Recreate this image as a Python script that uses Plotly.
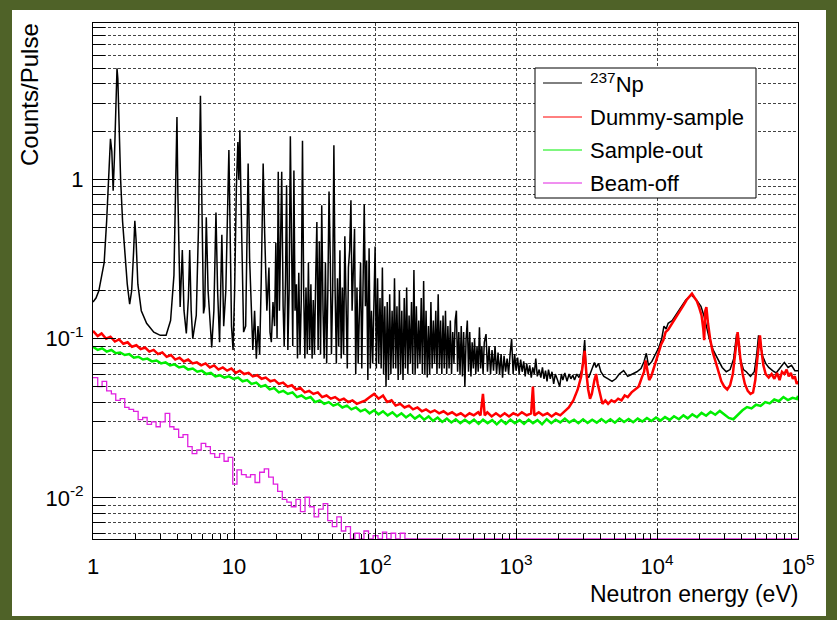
import plotly.graph_objects as go

# ---------------- data ----------------
np237_E = [
    1.00, 1.05, 1.10, 1.15, 1.20, 1.25, 1.29, 1.33, 1.36, 1.39,
    1.42, 1.45, 1.48, 1.50, 1.53, 1.57, 1.62, 1.68, 1.75, 1.82,
    1.88, 1.94, 1.98, 2.02, 2.08, 2.20, 2.40, 2.70, 3.00, 3.30,
    3.55, 3.75, 3.88, 3.94, 4.00, 4.08, 4.15, 4.30, 4.42, 4.59,
    4.75, 4.85, 4.97, 5.10, 5.40, 5.60, 5.78, 5.92, 6.08, 6.20,
    6.36, 6.55, 6.75, 6.95, 7.20, 7.45, 7.65, 7.90, 8.20, 8.45,
    8.75, 9.05, 9.20, 9.35, 9.60, 9.85, 10.1, 10.4, 10.65, 10.82,
    11.0, 11.2, 11.5, 11.7, 12.1, 12.4, 12.6, 12.9, 13.3, 13.6,
    14.0, 14.4, 14.8, 15.2, 15.6, 16.1, 16.5, 16.8, 17.1, 17.7,
    18.0, 18.4, 18.9,
    19.4, 19.8, 20.2, 20.6, 21.0, 21.4, 21.8, 22.3, 22.7, 23.2,
    23.6, 24.1, 24.6, 25.1, 25.6, 26.1, 26.6, 27.1, 27.7, 28.2,
    28.8, 29.4, 30.0, 30.6, 31.2, 31.8, 32.4, 33.1, 33.7, 34.4,
    35.1, 35.8, 36.5, 37.2, 38.0, 38.7, 39.5, 40.3, 41.1, 41.9,
    42.8, 43.6, 44.5, 45.4, 46.3, 47.2, 48.2, 49.1, 50.1, 51.1,
    52.1, 53.2, 54.2, 55.3, 56.4, 57.6, 58.7, 59.9, 61.1, 62.3,
    63.6, 64.8, 66.1, 67.5, 68.8, 70.2, 71.6, 73.0, 74.5, 76.0,
    77.5, 79.0, 80.6, 82.2, 83.9, 85.5, 87.2, 89.0, 90.8, 92.6,
    94.4, 96.3, 98.2, 100.2, 102.2, 104.3, 106.3, 108.5, 110.6, 112.8,
    115.1, 117.4, 119.7, 122.1, 124.6, 127.1, 129.6, 132.2, 134.8, 137.5,
    140.3, 143.1, 146.0, 148.9, 151.9, 154.9, 158.0, 161.2, 164.4, 167.7,
    171.0, 174.5, 178.0, 181.5, 185.1, 188.8, 192.6, 196.5, 200.4, 204.4,
    208.5, 212.7, 216.9, 221.3, 225.7, 230.2, 234.8, 239.5, 244.3, 249.2,
    254.2, 259.3, 264.5, 269.8, 275.1, 280.6, 286.3, 292.0, 297.8, 303.8,
    309.9, 316.1, 322.4, 328.8, 335.4, 342.1, 349.0, 356.0, 363.1, 370.4,
    377.8, 385.3, 393.0, 400.9, 408.9, 417.1, 425.4, 433.9, 442.6, 451.5,
    460.5, 469.7, 479.1, 488.7, 498.5, 508.4, 518.6, 529.0, 539.6, 550.4,
    561.4, 572.6, 584.1, 595.8,
    613, 628, 644, 660, 676, 693, 710, 728, 746,
    765, 784, 803, 823, 844, 865, 886, 908, 931, 954,
    978, 1002, 1027, 1053, 1079, 1106, 1134, 1162, 1191, 1221,
    1251, 1283, 1315, 1348, 1381, 1416, 1460, 1500, 1540, 1580,
    1620, 1660, 1700, 1750, 1800, 1850, 1900, 1970, 2040, 2100,
    2150, 2220, 2300, 2380, 2450, 2530, 2600, 2700, 2800, 2880,
    2950, 3070, 3150, 3280, 3450, 3600, 3700, 3850, 4000, 4200,
    4500, 4800, 5100, 5400, 5800, 6200, 6700, 7200, 7700, 8100,
    8400, 8700, 9200, 9800, 10300, 10800, 11200, 11600, 12000, 12800,
    13800, 14800, 16000, 17500, 19000, 20500, 21500, 22500, 23500, 25000,
    27000, 29000, 31000, 33000, 35000, 36000, 36700, 37500, 39000, 41000,
    43000, 46000, 49000, 51000, 52500, 54000, 56000, 59000, 62000, 66000,
    70000, 75000, 80000, 85000, 90000, 95000, 100000]
np237_y = [
    0.170, 0.180, 0.200, 0.240, 0.300, 0.550, 1.100, 1.800, 1.500, 0.850,
    1.400, 3.000, 5.000, 4.300, 2.300, 1.000, 0.550, 0.330, 0.220, 0.165,
    0.200, 0.350, 0.550, 0.420, 0.220, 0.150, 0.125, 0.110, 0.105, 0.105,
    0.130, 0.250, 1.200, 2.470, 0.800, 0.250, 0.158, 0.360, 0.150, 0.108,
    0.180, 0.360, 0.150, 0.100, 0.140, 0.500, 3.360, 0.700, 0.144, 0.160,
    0.580, 0.200, 0.120, 0.088, 0.150, 0.620, 0.200, 0.095, 0.450, 0.120,
    0.200, 0.800, 1.530, 0.600, 0.120, 0.085, 0.200, 0.900, 1.720, 1.000,
    2.040, 0.800, 0.250, 0.110, 0.120, 0.450, 1.260, 0.320, 0.120, 0.085,
    0.150, 0.075, 0.120, 0.080, 0.230, 1.260, 0.460, 0.300, 0.150, 0.280,
    0.110, 0.095, 0.170,
    0.120, 0.400, 0.100, 1.120, 0.150, 0.420, 1.120, 0.160, 0.090, 0.240,
    0.920, 0.085, 0.200, 1.870, 0.350, 0.090, 1.140, 0.150, 0.220, 0.075,
    0.260, 0.080, 0.175, 1.750, 0.200, 0.075, 0.210, 0.080, 0.300, 0.085,
    0.220, 0.075, 0.175, 0.080, 0.250, 0.540, 0.085, 0.410, 0.080, 0.690,
    0.150, 0.075, 0.300, 0.070, 0.200, 0.840, 0.310, 0.080, 0.200, 1.640,
    0.210, 0.070, 0.240, 0.090, 0.360, 0.075, 0.210, 0.080, 0.440, 0.160,
    0.065, 0.280, 0.360, 0.740, 0.150, 0.270, 0.490, 0.060, 0.210, 0.070,
    0.190, 0.300, 0.065, 0.240, 0.700, 0.160, 0.310, 0.055, 0.370, 0.065,
    0.150, 0.070, 0.220, 0.380, 0.065, 0.240, 0.070, 0.180, 0.065, 0.280,
    0.060, 0.160, 0.050, 0.170, 0.055, 0.190, 0.060, 0.150, 0.065, 0.240,
    0.065, 0.160, 0.055, 0.200, 0.060, 0.150, 0.055, 0.180, 0.065, 0.210,
    0.060, 0.140, 0.070, 0.170, 0.060, 0.270, 0.060, 0.160, 0.065, 0.130,
    0.070, 0.180, 0.060, 0.230, 0.060, 0.150, 0.057, 0.120, 0.060, 0.170,
    0.065, 0.130, 0.070, 0.150, 0.060, 0.190, 0.065, 0.130, 0.060, 0.140,
    0.065, 0.150, 0.060, 0.120, 0.065, 0.130, 0.060, 0.110, 0.070, 0.130,
    0.150, 0.062, 0.110, 0.060, 0.120, 0.058, 0.110, 0.050, 0.100, 0.130,
    0.062, 0.110, 0.058, 0.095, 0.065, 0.100, 0.060, 0.090, 0.062, 0.118,
    0.065, 0.090, 0.060, 0.095,
    0.107, 0.062, 0.090, 0.060, 0.085, 0.063, 0.090, 0.060, 0.082,
    0.060, 0.080, 0.057, 0.078, 0.062, 0.075, 0.060, 0.080, 0.100, 0.060,
    0.080, 0.063, 0.076, 0.060, 0.074, 0.062, 0.072, 0.058, 0.070, 0.060,
    0.068, 0.057, 0.066, 0.060, 0.075, 0.058, 0.064, 0.057, 0.066, 0.056,
    0.063, 0.054, 0.064, 0.056, 0.062, 0.052, 0.060, 0.055, 0.050, 0.060,
    0.055, 0.061, 0.054, 0.060, 0.056, 0.059, 0.055, 0.060, 0.057, 0.061,
    0.065, 0.098, 0.060, 0.057, 0.065, 0.071, 0.066, 0.070, 0.062, 0.058,
    0.056, 0.054, 0.056, 0.060, 0.063, 0.058, 0.060, 0.062, 0.065, 0.072,
    0.081, 0.068, 0.072, 0.080, 0.088, 0.100, 0.120, 0.115, 0.125, 0.130,
    0.145, 0.158, 0.175, 0.188, 0.176, 0.160, 0.140, 0.120, 0.100, 0.085,
    0.075, 0.066, 0.062, 0.064, 0.075, 0.095, 0.107, 0.095, 0.075, 0.064,
    0.062, 0.058, 0.062, 0.080, 0.105, 0.095, 0.078, 0.070, 0.066, 0.063,
    0.061, 0.066, 0.071, 0.066, 0.068, 0.063, 0.063]

dummy_E = [
    1.00, 1.08, 1.15, 1.24, 1.33, 1.43, 1.53, 1.64, 1.76, 1.89,
    2.03, 2.18, 2.34, 2.51, 2.69, 2.89, 3.10, 3.33, 3.57, 3.83,
    4.11, 4.41, 4.73, 5.08, 5.45, 5.85, 6.28, 6.74, 7.23, 7.76,
    8.33, 8.94, 9.59, 10.3, 11.0, 11.8, 12.7, 13.6, 14.6, 15.7,
    16.8, 18.1, 19.4, 20.8, 22.3, 24.0, 25.7, 27.6, 29.6, 31.8,
    34.1, 36.6, 39.3, 42.2, 45.3, 48.6, 52.1, 56.0, 60.1, 64.5,
    69.2, 74.3, 79.7, 85.6, 91.9, 98.6, 106, 114, 122, 131,
    140, 151, 162, 174, 186, 200, 215, 230, 247, 265,
    285, 306, 328, 352, 378, 406, 436, 468, 502, 539,
    560, 583, 600, 626, 672, 721, 774, 831, 892, 957,
    1030, 1100, 1190, 1280, 1318, 1350, 1450, 1550, 1670, 1790,
    1920, 2060, 2210, 2370, 2550, 2740, 2900, 3000, 3070, 3150,
    3250, 3350, 3450, 3600, 3700, 3800, 3950, 4100, 4300, 4500,
    4750, 5000, 5300, 5600, 5900, 6200, 6600, 7000, 7400, 7800,
    8100, 8300, 8550, 8800, 9100, 9500, 9900, 10300, 10700, 11100,
    11500, 12000, 12600, 13200, 13900, 14600, 15400, 16200, 17000, 17700,
    18400, 19200, 20000, 20700, 21300, 21600, 22000, 22400, 23000, 23800,
    24800, 26000, 27300, 28600, 30000, 31500, 33000, 34500, 35800, 36700,
    37300, 38000, 39000, 40500, 42000, 44000, 46000, 48000, 49800, 51500,
    52800, 53700, 55000, 56800, 59000, 62000, 65000, 68000, 71000, 74000,
    77000, 80000, 83000, 86000, 89000, 92000, 95000, 98000, 100000]
dummy_y = [
    0.112, 0.104, 0.108, 0.100, 0.103, 0.096, 0.099, 0.093, 0.095, 0.089,
    0.091, 0.086, 0.088, 0.083, 0.085, 0.080, 0.082, 0.077, 0.079, 0.074,
    0.076, 0.072, 0.074, 0.070, 0.071, 0.068, 0.070, 0.066, 0.068, 0.064,
    0.066, 0.063, 0.065, 0.061, 0.063, 0.060, 0.061, 0.058, 0.059, 0.056,
    0.057, 0.054, 0.055, 0.052, 0.053, 0.050, 0.051, 0.048, 0.049, 0.046,
    0.047, 0.045, 0.046, 0.043, 0.044, 0.042, 0.043, 0.041, 0.042, 0.040,
    0.041, 0.039, 0.040, 0.041, 0.043, 0.045, 0.042, 0.044, 0.040, 0.041,
    0.038, 0.039, 0.037, 0.038, 0.036, 0.037, 0.035, 0.036, 0.0345, 0.0355,
    0.034, 0.035, 0.0335, 0.0345, 0.033, 0.034, 0.0325, 0.034, 0.033, 0.0345,
    0.033, 0.045, 0.033, 0.0345, 0.0325, 0.034, 0.0325, 0.034, 0.0325, 0.034,
    0.033, 0.0345, 0.033, 0.034, 0.050, 0.033, 0.0345, 0.033, 0.034, 0.0325,
    0.034, 0.033, 0.035, 0.037, 0.041, 0.048, 0.058, 0.070, 0.084, 0.062,
    0.048, 0.042, 0.045, 0.055, 0.060, 0.052, 0.044, 0.039, 0.041, 0.039,
    0.041, 0.040, 0.042, 0.041, 0.044, 0.043, 0.046, 0.048, 0.050, 0.057,
    0.062, 0.073, 0.062, 0.055, 0.058, 0.066, 0.074, 0.084, 0.092, 0.098,
    0.110, 0.114, 0.122, 0.130, 0.138, 0.150, 0.162, 0.175, 0.185, 0.192,
    0.182, 0.172, 0.155, 0.140, 0.115, 0.098, 0.150, 0.158, 0.125, 0.100,
    0.083, 0.072, 0.062, 0.054, 0.050, 0.048, 0.051, 0.060, 0.080, 0.105,
    0.110, 0.095, 0.075, 0.060, 0.052, 0.047, 0.045, 0.046, 0.055, 0.075,
    0.098, 0.105, 0.085, 0.068, 0.060, 0.057, 0.060, 0.056, 0.061, 0.055,
    0.062, 0.060, 0.064, 0.058, 0.061, 0.056, 0.058, 0.052, 0.054]

out_E = [
    1.00, 1.08, 1.16, 1.25, 1.35, 1.45, 1.56, 1.68, 1.81, 1.95,
    2.10, 2.26, 2.43, 2.62, 2.82, 3.04, 3.27, 3.52, 3.79, 4.08,
    4.40, 4.73, 5.10, 5.49, 5.91, 6.36, 6.85, 7.38, 7.94, 8.55,
    9.21, 9.92, 10.7, 11.5, 12.4, 13.3, 14.4, 15.5, 16.7, 17.9,
    19.3, 20.8, 22.4, 24.1, 26.0, 28.0, 30.1, 32.4, 34.9, 37.6,
    40.5, 43.6, 47.0, 50.6, 54.5, 58.7, 63.2, 68.0, 73.3, 78.9,
    85.0, 91.5, 98.6, 106, 114, 123, 133, 143, 154, 166,
    178, 192, 207, 223, 240, 258, 278, 300, 323, 348,
    374, 403, 434, 468, 504, 543, 584, 629, 678, 730,
    786, 847, 912, 982, 1060, 1140, 1230, 1320, 1420, 1530,
    1650, 1780, 1910, 2060, 2220, 2390, 2580, 2770, 2990, 3220,
    3470, 3740, 4030, 4340, 4670, 5030, 5420, 5840, 6290, 6780,
    7300, 7870, 8480, 9130, 9840, 10600, 11400, 12300, 13200, 14300,
    15400, 16500, 17800, 19200, 20700, 22300, 24000, 25900, 27900, 30000,
    32300, 34800, 37500, 40400, 43500, 46800, 50400, 54300, 58500, 63000,
    67900, 73100, 78800, 84800, 91400, 98400, 100000]
out_y = [
    0.089, 0.085, 0.087, 0.083, 0.085, 0.081, 0.082, 0.079, 0.080, 0.076,
    0.077, 0.074, 0.075, 0.072, 0.073, 0.070, 0.071, 0.068, 0.069, 0.066,
    0.067, 0.064, 0.065, 0.062, 0.063, 0.060, 0.061, 0.058, 0.059, 0.057,
    0.058, 0.056, 0.057, 0.054, 0.055, 0.052, 0.053, 0.050, 0.051, 0.048,
    0.049, 0.046, 0.047, 0.045, 0.046, 0.043, 0.044, 0.042, 0.043, 0.040,
    0.041, 0.039, 0.040, 0.038, 0.039, 0.037, 0.038, 0.036, 0.037, 0.035,
    0.036, 0.034, 0.0355, 0.0335, 0.035, 0.033, 0.0345, 0.0325, 0.034, 0.032,
    0.0335, 0.0315, 0.033, 0.031, 0.0325, 0.0305, 0.032, 0.030, 0.0315, 0.0298,
    0.0312, 0.0295, 0.031, 0.0295, 0.031, 0.0292, 0.031, 0.0295, 0.0308, 0.029,
    0.0308, 0.0292, 0.031, 0.0295, 0.0308, 0.0292, 0.031, 0.0295, 0.0308, 0.029,
    0.0312, 0.0295, 0.031, 0.0298, 0.0315, 0.0298, 0.031, 0.0295, 0.0312, 0.0296,
    0.031, 0.0297, 0.0313, 0.0298, 0.0312, 0.0297, 0.0315, 0.030, 0.0313, 0.0299,
    0.0315, 0.0302, 0.0318, 0.0304, 0.032, 0.0306, 0.0322, 0.0309, 0.0326, 0.0312,
    0.033, 0.0316, 0.0335, 0.0321, 0.0342, 0.0328, 0.0348, 0.0333, 0.0352, 0.0336,
    0.0318, 0.0312, 0.0335, 0.0355, 0.0372, 0.0365, 0.0385, 0.0378, 0.040, 0.0392,
    0.0415, 0.0405, 0.043, 0.0412, 0.0425, 0.0418, 0.0438]

beam_E = [
    1.00, 1.08, 1.16, 1.25, 1.35, 1.45, 1.56, 1.68, 1.80, 1.94,
    2.09, 2.25, 2.42, 2.60, 2.80, 3.00, 3.25, 3.50, 3.75, 4.05,
    4.35, 4.70, 5.05, 5.45, 5.85, 6.30, 6.80, 7.30, 7.90, 8.50,
    9.10, 9.80, 10.5, 11.3, 12.2, 13.1, 14.1, 15.2, 16.4, 17.6,
    19.0, 20.4, 22.0, 23.7, 25.5, 27.5, 29.6, 31.9, 34.3, 37.0,
    39.8, 42.9, 46.2, 49.8, 53.6, 57.7, 62.0, 67.0, 72.0, 77.5,
    83.5, 90.0, 97.0, 105, 113, 121, 130, 140, 151, 163,
    175, 100000]
beam_y = [
    0.057, 0.050, 0.054, 0.047, 0.045, 0.041, 0.042, 0.037, 0.036, 0.035,
    0.031, 0.032, 0.029, 0.030, 0.028, 0.030, 0.034, 0.028, 0.027, 0.024,
    0.025, 0.021, 0.019, 0.020, 0.022, 0.021, 0.019, 0.018, 0.019, 0.017,
    0.018, 0.0122, 0.015, 0.014, 0.0135, 0.014, 0.0125, 0.0145, 0.0152, 0.0135,
    0.0122, 0.011, 0.0098, 0.0094, 0.0088, 0.0098, 0.0082, 0.0101, 0.0088, 0.0076,
    0.0085, 0.0092, 0.0072, 0.0066, 0.0076, 0.0062, 0.0066, 0.00553, 0.0060, 0.00553,
    0.0062, 0.00553, 0.0058, 0.00553, 0.0061, 0.00553, 0.0060, 0.00553, 0.0060, 0.00553,
    0.00553, 0.00553]

series_names = ["<sup>237</sup>Np", "Dummy-sample", "Sample-out", "Beam-off"]
series_colors = ["#000000", "#ff0000", "#00ee00", "#e020e0"]

x_tickvals = [1, 10, 100, 1000, 10000, 100000]
x_ticktext = ["1", "10", "10<sup>2</sup>", "10<sup>3</sup>", "10<sup>4</sup>", "10<sup>5</sup>"]
y_tickvals = [0.01, 0.1, 1]
y_ticktext = ["10<sup>-2</sup>", "10<sup>-1</sup>", "1"]
x_minor = [m * 10 ** k for k in range(0, 5) for m in range(2, 10)]
y_minor = [m * 10.0 ** k for k in range(-3, 1) for m in range(2, 10)]

# ---------------- figure ----------------
W, H = 837, 620
L, R, T, B = 93, 39, 23, 81
PW, PH = W - L - R, H - T - B


def px2paper(px):
    return (px - L) / PW


def py2paper(py):
    return (H - B - py) / PH


fig = go.Figure()
fig.add_trace(go.Scatter(x=np237_E, y=np237_y, mode="lines", name=series_names[0],
                         line=dict(color=series_colors[0], width=1.5)))
fig.add_trace(go.Scatter(x=dummy_E, y=dummy_y, mode="lines", name=series_names[1],
                         line=dict(color=series_colors[1], width=2.5)))
fig.add_trace(go.Scatter(x=out_E, y=out_y, mode="lines", name=series_names[2],
                         line=dict(color=series_colors[2], width=2.5)))
fig.add_trace(go.Scatter(x=beam_E, y=beam_y, mode="lines", name=series_names[3], line_shape="hv",
                         line=dict(color=series_colors[3], width=1.3)))

grid_dash = "3px,2px"
fig.update_xaxes(type="log", range=[0, 5], showline=True, linecolor="black", linewidth=1, mirror=True,
                 tickmode="array", tickvals=x_tickvals, ticktext=x_ticktext,
                 ticks="inside", ticklen=10, tickcolor="black", tickwidth=1,
                 showgrid=True, gridcolor="#444444", griddash=grid_dash, gridwidth=1,
                 ticklabelstandoff=8, tickfont=dict(size=22),
                 minor=dict(tickmode="array", tickvals=x_minor, ticks="inside", ticklen=5,
                            tickcolor="black", showgrid=False),
                 zeroline=False)
fig.update_yaxes(type="log", range=[-2.258, 0.983], showline=True, linecolor="black", linewidth=1, mirror=True,
                 tickmode="array", tickvals=y_tickvals, ticktext=y_ticktext,
                 ticks="inside", ticklen=23, tickcolor="black", tickwidth=1,
                 showgrid=True, gridcolor="#444444", griddash=grid_dash, gridwidth=1,
                 ticklabelstandoff=4, tickfont=dict(size=22),
                 minor=dict(tickmode="array", tickvals=y_minor, ticks="inside", ticklen=12,
                            tickcolor="black", showgrid=True, gridcolor="#444444", griddash=grid_dash, gridwidth=1),
                 zeroline=False)

# legend box drawn as shapes + text (ROOT TLegend look)
leg_x0, leg_x1, leg_y0, leg_y1 = 535, 756, 68, 198
leg_rows = [83, 117, 150, 183]
shapes = [dict(type="rect", xref="paper", yref="paper",
               x0=px2paper(12), x1=px2paper(826), y0=py2paper(616), y1=py2paper(10),
               fillcolor="white", line=dict(width=0), layer="below"),
          dict(type="rect", xref="paper", yref="paper",
               x0=px2paper(leg_x0), x1=px2paper(leg_x1), y0=py2paper(leg_y1), y1=py2paper(leg_y0),
               fillcolor="white", line=dict(color="black", width=1), layer="above")]
annotations = []
for name, color, row in zip(series_names, series_colors, leg_rows):
    shapes.append(dict(type="line", xref="paper", yref="paper",
                       x0=px2paper(543), x1=px2paper(582), y0=py2paper(row), y1=py2paper(row),
                       line=dict(color=color, width=1), layer="above"))
    annotations.append(dict(text=name, xref="paper", yref="paper", x=px2paper(588), y=py2paper(row),
                            xanchor="left", yanchor="middle", showarrow=False, font=dict(size=22)))

annotations += [
    dict(text="Counts/Pulse", textangle=-90, xref="paper", yref="paper",
         x=px2paper(29), y=py2paper(95), xanchor="center", yanchor="middle",
         showarrow=False, font=dict(size=24)),
    dict(text="Neutron energy (eV)", xref="paper", yref="paper",
         x=px2paper(800), y=py2paper(594), xanchor="right", yanchor="middle",
         showarrow=False, font=dict(size=23)),
]

fig.update_layout(
    width=W, height=H,
    margin=dict(l=L, r=R, t=T, b=B, autoexpand=False),
    paper_bgcolor="#4F6228", plot_bgcolor="white",
    font=dict(family="Liberation Sans, Arial, sans-serif", size=21, color="black"),
    showlegend=False,
    shapes=shapes,
    annotations=annotations,
)

fig.write_html("out.html")
